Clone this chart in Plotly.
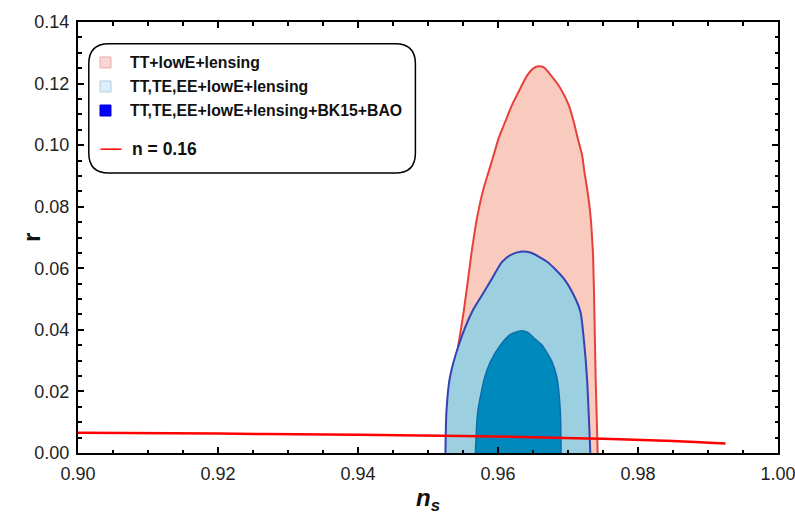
import plotly.graph_objects as go

# ---------------- data ----------------
# TT+lowE+lensing contour (outer, red)
tt_ns = [0.95263, 0.95296, 0.95359, 0.95510, 0.95627, 0.95653, 0.95691, 0.95738, 0.95795,
         0.95867, 0.95938, 0.96010, 0.96105, 0.96201, 0.96320, 0.96424, 0.96510, 0.96581,
         0.96660, 0.96748, 0.96891, 0.97009, 0.97081, 0.97138, 0.97201, 0.97234, 0.97272,
         0.97305, 0.97329, 0.97344, 0.97358, 0.97377, 0.97395, 0.97424]
tt_r = [0.0000, 0.0133, 0.0243, 0.0459, 0.0659, 0.0698, 0.0752, 0.0806, 0.0860,
        0.0914, 0.0968, 0.1023, 0.1077, 0.1131, 0.1185, 0.1229, 0.1250, 0.1256,
        0.1252, 0.1229, 0.1185, 0.1131, 0.1077, 0.1023, 0.0968, 0.0914, 0.0860,
        0.0806, 0.0752, 0.0698, 0.0643, 0.0459, 0.0243, 0.0000]

# TT,TE,EE+lowE+lensing contour (light blue)
te_ns = [0.95249, 0.95263, 0.95310, 0.95438, 0.95630, 0.95773, 0.95915, 0.96058, 0.96177,
         0.96320, 0.96462, 0.96701, 0.96938, 0.97081, 0.97177, 0.97234, 0.97272, 0.97295,
         0.97319]
te_r = [0.0000, 0.0133, 0.0242, 0.0350, 0.0459, 0.0513, 0.0567, 0.0621, 0.0643,
        0.0654, 0.0651, 0.0621, 0.0567, 0.0513, 0.0459, 0.0350, 0.0242, 0.0133,
        0.0000]

# TT,TE,EE+lowE+lensing+BK15+BAO contour (dark blue)
bk_ns = [0.95677, 0.95710, 0.95805, 0.95891, 0.96034, 0.96177, 0.96330, 0.96430, 0.96530,
         0.96630, 0.96772, 0.96844, 0.96891, 0.96901]
bk_r = [0.0000, 0.0133, 0.0242, 0.0296, 0.0350, 0.0385, 0.0397, 0.0391, 0.0370,
        0.0350, 0.0296, 0.0242, 0.0133, 0.0000]

# model prediction n = 0.16
line_ns = [0.900, 0.920, 0.940, 0.955, 0.965, 0.975, 0.985, 0.9925]
line_r = [0.0066, 0.0063, 0.0059, 0.0055, 0.0051, 0.0046, 0.0039, 0.0031]

legend_labels = ["TT+lowE+lensing", "TT,TE,EE+lowE+lensing",
                 "TT,TE,EE+lowE+lensing+BK15+BAO", "n = 0.16"]

x_ticks = [0.90, 0.92, 0.94, 0.96, 0.98, 1.00]
y_ticks = [0.00, 0.02, 0.04, 0.06, 0.08, 0.10, 0.12, 0.14]

# ---------------- layout helpers ----------------
W, H = 795, 514
ML, MR, MT, MB = 77.5, 17.3, 22.3, 61.3
PW, PH = W - ML - MR, H - MT - MB
FONT = "Liberation Sans, Arial, sans-serif"


def px(x):
    return (x - ML) / PW


def py(y):
    return (H - MB - y) / PH


fig = go.Figure()

fig.add_trace(go.Scatter(x=tt_ns, y=tt_r, fill="toself", fillcolor="#F9CABE",
                         mode="lines", line=dict(color="#E8403C", width=2,
                                                 shape="spline", smoothing=0.7),
                         showlegend=False, hoverinfo="skip"))
fig.add_trace(go.Scatter(x=te_ns, y=te_r, fill="toself", fillcolor="#9CCFE0",
                         mode="lines", line=dict(color="#3442B4", width=2,
                                                 shape="spline", smoothing=0.7),
                         showlegend=False, hoverinfo="skip"))
fig.add_trace(go.Scatter(x=bk_ns, y=bk_r, fill="toself", fillcolor="#0089BD",
                         mode="lines", line=dict(color="#0B6FAA", width=1.5,
                                                 shape="spline", smoothing=0.6),
                         showlegend=False, hoverinfo="skip"))
fig.add_trace(go.Scatter(x=line_ns, y=line_r, mode="lines",
                         line=dict(color="#FF0000", width=2.5, shape="spline"),
                         showlegend=False, hoverinfo="skip"))

# ---------------- manual legend ----------------
bx0, bx1, by0, by1, rad = 88.3, 415, 44, 173, 20
path = (f"M {px(bx0 + rad)} {py(by0)} L {px(bx1 - rad)} {py(by0)} "
        f"Q {px(bx1)} {py(by0)} {px(bx1)} {py(by0 + rad)} "
        f"L {px(bx1)} {py(by1 - rad)} "
        f"Q {px(bx1)} {py(by1)} {px(bx1 - rad)} {py(by1)} "
        f"L {px(bx0 + rad)} {py(by1)} "
        f"Q {px(bx0)} {py(by1)} {px(bx0)} {py(by1 - rad)} "
        f"L {px(bx0)} {py(by0 + rad)} "
        f"Q {px(bx0)} {py(by0)} {px(bx0 + rad)} {py(by0)} Z")
shapes = [dict(type="path", xref="paper", yref="paper", path=path,
               line=dict(color="black", width=1.5), fillcolor="white", layer="above")]

rows_y = [62.7, 86.7, 110.7]
sq_fill = ["#FBD5D5", "#DDEEFB", "#0000FF"]
sq_line = ["#E3AFAF", "#B3CCE0", "#0000CC"]
s = 5.5
for yy, fc, lc in zip(rows_y, sq_fill, sq_line):
    shapes.append(dict(type="rect", xref="paper", yref="paper",
                       x0=px(105 - s), x1=px(105 + s), y0=py(yy + s), y1=py(yy - s),
                       fillcolor=fc, line=dict(color=lc, width=1), layer="above"))
shapes.append(dict(type="line", xref="paper", yref="paper",
                   x0=px(100), x1=px(121), y0=py(149.3), y1=py(149.3),
                   line=dict(color="#FF0000", width=1.5), layer="above"))

annotations = []
for yy, lab in zip(rows_y, legend_labels[:3]):
    annotations.append(dict(x=px(128), y=py(yy), xref="paper", yref="paper",
                            text=f"<b>{lab}</b>", showarrow=False,
                            xanchor="left", yanchor="middle",
                            font=dict(family=FONT, size=15.8, color="#111")))
annotations.append(dict(x=px(130), y=py(149.3), xref="paper", yref="paper",
                        text=f"<b>{legend_labels[3]}</b>", showarrow=False,
                        xanchor="left", yanchor="middle",
                        font=dict(family=FONT, size=17.5, color="#111")))

# axis titles
annotations.append(dict(x=0.5, y=py(499), xref="paper", yref="paper",
                        text="<b><i>n</i></b><sub><b><i>s</i></b></sub>", showarrow=False,
                        xanchor="center", yanchor="middle",
                        font=dict(family=FONT, size=24, color="#111")))
annotations.append(dict(x=px(31), y=0.5, xref="paper", yref="paper",
                        text="<b>r</b>", showarrow=False, textangle=-90,
                        xanchor="center", yanchor="middle",
                        font=dict(family=FONT, size=24, color="#111")))

axis_common = dict(showgrid=False, zeroline=False, showline=True, linecolor="black",
                   linewidth=2, mirror="allticks", ticks="inside", ticklen=6,
                   tickwidth=1.5, tickcolor="black", tickformat=".2f",
                   ticklabeloverflow="allow", automargin=False,
                   tickfont=dict(family=FONT, size=18, color="#222"))

fig.update_layout(
    width=W, height=H,
    margin=dict(l=ML, r=MR, t=MT, b=MB),
    paper_bgcolor="white", plot_bgcolor="white",
    xaxis=dict(range=[0.90, 1.00], tickvals=x_ticks, ticklabelstandoff=3,
               minor=dict(ticks="inside", dtick=0.005, ticklen=3.5, tickwidth=1.5,
                          tickcolor="black"),
               **axis_common),
    yaxis=dict(range=[0.0, 0.14], tickvals=y_ticks, ticklabelstandoff=3,
               minor=dict(ticks="inside", dtick=0.005, ticklen=3.5, tickwidth=1.5,
                          tickcolor="black"),
               **axis_common),
    shapes=shapes,
    annotations=annotations,
    showlegend=False,
)

fig.write_html("out.html", config={"displayModeBar": False},
               post_script="document.body.style.margin='0';")
